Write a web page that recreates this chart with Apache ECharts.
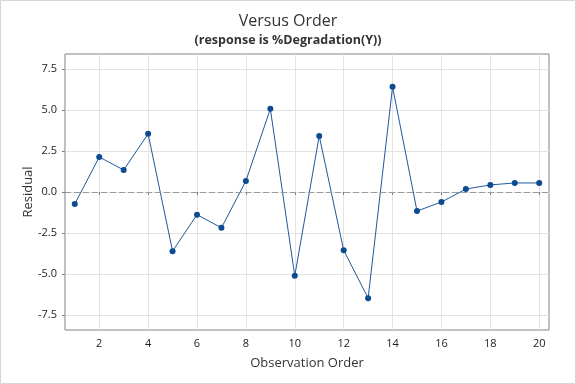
<!DOCTYPE html>
<html>
<head>
<meta charset="utf-8">
<script src="https://cdn.jsdelivr.net/npm/echarts@6/dist/echarts.min.js"></script>
<style>html,body{margin:0;padding:0;background:#fff}#c{width:576px;height:384px}</style>
</head>
<body>
<div id="c"></div>
<script>
var order = [1,2,3,4,5,6,7,8,9,10,11,12,13,14,15,16,17,18,19,20];
var residuals = [-0.73,2.13,1.34,3.54,-3.60,-1.38,-2.18,0.67,5.06,-5.10,3.41,-3.54,-6.46,6.40,-1.16,-0.61,0.18,0.43,0.55,0.55];
var xTicks = [2,4,6,8,10,12,14,16,18,20];
var yTicks = [-7.5,-5.0,-2.5,0.0,2.5,5.0,7.5];

var chart = echarts.init(document.getElementById('c'), null, {renderer:'canvas'});
var font = '"Open Sans","Noto Sans",sans-serif';
chart.setOption({
  animation:false,
  backgroundColor:'#fff',
  graphic:[{type:'rect',shape:{x:0.5,y:0.5,width:575,height:383},style:{fill:'none',stroke:'#d6d6d6',lineWidth:1}}],
  title:[
    {text:'Versus Order',left:'center',top:8,textStyle:{fontFamily:font,fontSize:16,fontWeight:'normal',color:'#333'}},
    {text:'(response is %Degradation(Y))',left:'center',top:29,textStyle:{fontFamily:font,fontSize:12.5,fontWeight:'bold',color:'#333'}}
  ],
  grid:{left:65,right:27,top:54,bottom:54,show:true,borderColor:'#808080',borderWidth:1,backgroundColor:'#fff'},
  xAxis:{
    type:'value',min:0.6,max:20.4,
    name:'Observation Order',nameLocation:'middle',nameGap:27,
    nameTextStyle:{fontFamily:font,fontSize:13,color:'#333'},
    axisLine:{show:false},
    axisTick:{show:true,length:3,customValues:xTicks,lineStyle:{color:'#808080'}},
    axisLabel:{customValues:xTicks,fontFamily:font,fontSize:11,color:'#222',margin:8},
    splitLine:{show:true,lineStyle:{color:'#e3e3e3',width:1}}
  },
  yAxis:{
    type:'value',min:-8.4,max:8.4,
    name:'Residual',nameLocation:'middle',nameGap:30,nameMoveOverlap:false,
    nameTextStyle:{fontFamily:font,fontSize:13,color:'#333'},
    axisLine:{show:false},
    axisTick:{show:true,length:3,customValues:yTicks,lineStyle:{color:'#808080'}},
    axisLabel:{customValues:yTicks,fontFamily:font,fontSize:11,color:'#222',margin:8,formatter:function(v){return v.toFixed(1);}},
    splitLine:{show:true,lineStyle:{color:'#e3e3e3',width:1}}
  },
  series:[{
    type:'line',
    data:order.map(function(o,i){return [o,residuals[i]];}),
    symbol:'circle',symbolSize:6,
    lineStyle:{color:'#1d5a9a',width:1},
    itemStyle:{color:'#0d4a8f'},
    markLine:{
      silent:true,symbol:'none',label:{show:false},
      lineStyle:{color:'#9a9a9a',type:[6,3],width:1},
      data:[{yAxis:0}]
    }
  }]
});
</script>
</body>
</html>
